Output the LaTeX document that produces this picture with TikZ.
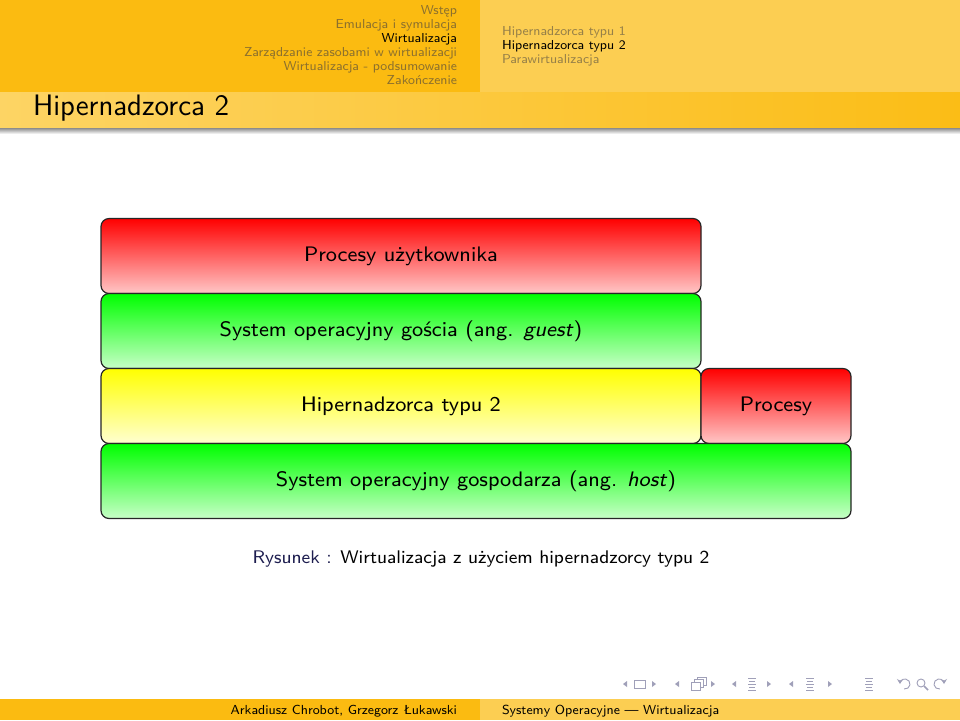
\documentclass[tikz,border=0pt]{standalone}
\usepackage{fontspec}
\renewcommand{\familydefault}{\sfdefault}
\newfontfamily\lmsviii{lmsans8-regular.otf}[ItalicFont=lmsans8-oblique.otf, Ligatures=TeX]
\usetikzlibrary{arrows.meta}
\definecolor{hdark}{RGB}{251,187,17}
\definecolor{hlight}{RGB}{252,206,82}
\definecolor{tbleft}{RGB}{253,212,100}
\definecolor{tbright}{RGB}{251,189,22}
\definecolor{inL}{RGB}{140,112,45}
\definecolor{inR}{RGB}{150,128,72}
\definecolor{navc}{RGB}{160,160,185}
\definecolor{capblue}{RGB}{30,30,80}
\tikzset{
  hsec/.style={anchor=base east, font=\lmsviii\fontsize{6.5}{8}\selectfont, text=inL},
  hsub/.style={anchor=base west, font=\lmsviii\fontsize{6.5}{8}\selectfont, text=inR},
  layer/.style={draw=black!85, line width=0.6pt, rounded corners=4pt, minimum height=37.5pt, inner sep=0pt, font=\lmsviii\fontsize{10.5}{13}\selectfont},
  redl/.style={layer, top color=red, bottom color=red!22},
  greenl/.style={layer, top color=green, bottom color=green!22},
  yell/.style={layer, top color=yellow, bottom color=yellow!18},
  navline/.style={draw=navc, line width=0.45pt},
  navtri/.style={fill=navc},
  foot/.style={font=\lmsviii\fontsize{6.55}{8}\selectfont},
}
\begin{document}
\begin{tikzpicture}[x=0.5pt,y=-0.5pt, every node/.style={inner sep=0pt, outer sep=0pt}]
\useasboundingbox (0,0) rectangle (960,720);
\fill[white] (0,0) rectangle (960,720);
% headline
\fill[hdark] (0,0) rectangle (480,92);
\fill[hlight] (480,0) rectangle (960,92);
\shade[left color=tbleft, right color=tbright] (0,92) rectangle (960,128);
\shade[top color=black!45, bottom color=white] (0,128) rectangle (960,134);
\node[hsec] (s1) at (457,14) {Wstęp};
\node[hsec] (s2) at (457,28) {Emulacja i symulacja};
\node[hsec, text=black] (s3) at (457,42) {Wirtualizacja};
\node[hsec] (s4) at (457,56) {Zarządzanie zasobami w wirtualizacji};
\node[hsec] (s5) at (457,70) {Wirtualizacja - podsumowanie};
\node[hsec] (s6) at (457,84) {Zakończenie};
\node[hsub] (u1) at (502,35) {Hipernadzorca typu 1};
\node[hsub, text=black] (u2) at (502,49) {Hipernadzorca typu 2};
\node[hsub] (u3) at (502,63) {Parawirtualizacja};
\node[anchor=base west, font=\fontsize{14.8}{17}\selectfont] (title) at (33,115) {Hipernadzorca 2};
% diagram
\node[redl, minimum width=300pt] (user) at (401,256) {Procesy użytkownika};
\node[greenl, minimum width=300pt] (guest) at (401,331) {System operacyjny gościa (ang. \emph{guest})};
\node[yell, minimum width=300pt] (hyp) at (401,406) {Hipernadzorca typu 2};
\node[redl, minimum width=75pt] (proc) at (776,406) {Procesy};
\node[greenl, minimum width=375pt] (host) at (476,481) {System operacyjny gospodarza (ang. \emph{host})};
\node[anchor=base, font=\lmsviii\fontsize{9.15}{11}\selectfont] (cap) at (481,563) {\textcolor{capblue}{Rysunek :} Wirtualizacja z użyciem hipernadzorcy typu 2};
% navigation symbols
\fill[navtri] (627,681) -- (623,684) -- (627,687) -- cycle;
\draw[navline] (634,680) rectangle (645,688);
\fill[navtri] (652,681) -- (656,684) -- (652,687) -- cycle;
\fill[navtri] (679,681) -- (675,684) -- (679,687) -- cycle;
\draw[navline] (691,682) rectangle (700,690);
\draw[navline] (694,682) -- (694,679) -- (703,679) -- (703,687) -- (700,687);
\draw[navline] (697,679) -- (697,677) -- (706,677) -- (706,685) -- (703,685);
\fill[navtri] (711,681) -- (715,684) -- (711,687) -- cycle;
\fill[navtri] (736,681) -- (732,684) -- (736,687) -- cycle;
\foreach \yy/\ww in {678/4,681/3,684/4,687/3,690/4} \draw[navline] (752-\ww,\yy) -- (752+\ww,\yy);
\fill[navtri] (767,681) -- (771,684) -- (767,687) -- cycle;
\fill[navtri] (793,681) -- (789,684) -- (793,687) -- cycle;
\foreach \yy/\ww in {678/4,681/3,684/4,687/3,690/4} \draw[navline] (810-\ww,\yy) -- (810+\ww,\yy);
\fill[navtri] (828,681) -- (832,684) -- (828,687) -- cycle;
\foreach \yy/\ww in {678/4,681/3,684/4,687/3,690/4} \draw[navline] (869-\ww,\yy) -- (869+\ww,\yy);
\draw[navline, -{Stealth[length=2.5pt,width=3pt]}] (905,684) ++(100:5) arc[start angle=100, end angle=-180, radius=5];
\draw[navline] (921,683) circle[radius=4];
\draw[navline, line width=0.8pt] (924,686) -- (928,690);
\draw[navline, -{Stealth[length=2.5pt,width=3pt]}] (939,684) ++(80:5) arc[start angle=80, end angle=360, radius=5];
% footline
\fill[hdark] (0,699) rectangle (480,720);
\fill[hlight] (480,699) rectangle (960,720);
\node[foot, anchor=base east] (auth) at (457,714) {Arkadiusz Chrobot, Grzegorz Łukawski};
\node[foot, anchor=base west] (ttl) at (502,714) {Systemy Operacyjne --- Wirtualizacja};
\end{tikzpicture}
\end{document}
